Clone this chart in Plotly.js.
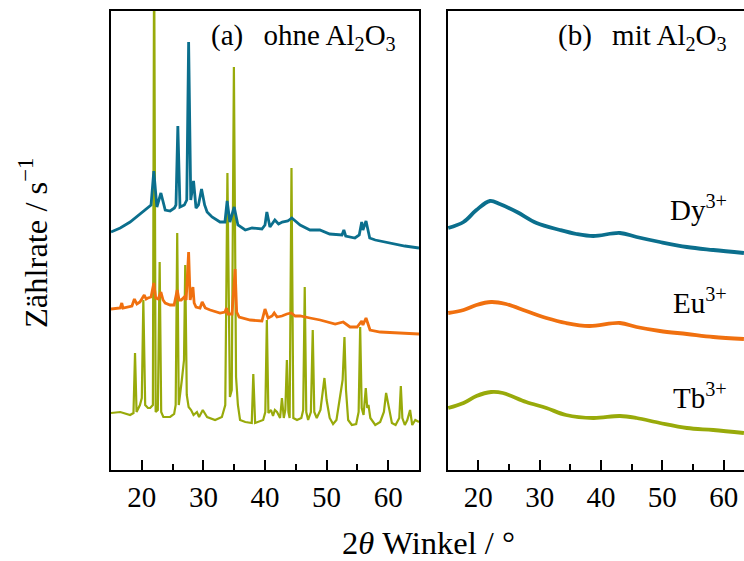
<!DOCTYPE html>
<html>
<head>
<meta charset="utf-8">
<script src="https://cdn.plot.ly/plotly-3.0.1.min.js"></script>
<style>html,body{margin:0;padding:0;background:#fff;}#chart{width:744px;height:561px;}</style>
</head>
<body>
<div id="chart"></div>
<script>
// ---- (a) ohne Al2O3 : 2theta (deg) and counts (arbitrary, offset-stacked) ----
const dyA_x = [15.0,16.5,18.1,19.9,21.0,21.5,21.95,22.45,23.1,23.8,24.6,25.3,25.55,25.85,26.2,26.9,27.3,27.6,27.95,28.4,28.8,29.2,29.7,30.2,30.6,31.4,32.7,33.5,33.85,34.3,35.0,35.6,36.8,37.9,39.5,40.0,40.3,40.8,41.6,42.2,42.8,43.7,44.35,45.7,47.3,48.9,50.5,52.5,52.8,53.1,54.6,55.3,55.7,55.9,56.4,57.0,57.9,60.3,62.7,65.0];
const dyA_y = [238,242,248,257,263,265,299,263,277,260,259,262,265,344,263,265,270,428,270,289,262,265,281,265,258,253,248,248,269,248,263,245,240,242,241,245,258,243,250,246,248,249,252,245,240,240,236,235,240,234,232,235,248,240,249,232,230,227,224,222];

const euA_x = [15.0,16.5,16.75,16.95,18.4,18.8,19.2,19.7,20.4,20.7,21.0,21.5,21.95,22.25,22.65,23.1,23.45,23.8,24.6,25.25,25.75,26.05,26.4,26.9,27.2,27.6,27.85,28.3,28.5,28.8,29.45,29.8,30.3,31.1,32.7,33.5,33.75,34.0,34.65,35.15,35.4,35.8,37.6,39.5,40.0,40.5,41.15,41.5,41.95,42.75,43.55,44.25,44.9,45.7,47.3,48.95,51.4,52.7,53.8,54.95,55.7,55.9,56.4,57.05,58.7,61.1,65.0];
const euA_y = [161,162,167,162,164,171,166,168,175,171,172,173,187,172,171,178,170,167,165,165,180,170,170,173,170,218,170,183,167,163,162,168,162,160,157,158,162,156,156,201,158,153,150,149,161,152,154,157,153,154,156,157,154,154,152,150,146,148,143,143,149,145,152,140,138,137,136];

const tbA_x = [15.0,16.5,18.1,18.65,18.9,19.15,19.7,20.0,20.25,20.55,21.0,21.35,21.8,22.0,22.25,22.6,22.9,23.15,23.5,24.6,25.25,25.5,25.75,26.0,26.5,26.85,27.05,27.3,27.6,28.0,28.4,28.95,29.3,29.9,30.6,31.9,33.0,33.55,33.9,34.3,34.6,34.95,35.3,35.6,35.95,36.8,37.85,38.1,38.4,39.7,40.05,40.3,40.55,40.98,41.3,41.6,41.95,42.45,42.75,43.05,43.3,43.55,43.8,44.0,44.3,44.6,45.2,45.9,46.2,46.45,46.7,47.0,47.45,47.75,48.0,48.4,49.0,49.35,49.65,50.0,50.5,51.05,51.6,52.1,52.45,52.6,52.9,53.15,53.5,54.1,54.8,55.2,55.45,55.7,56.0,56.36,56.6,56.8,57.1,57.9,58.7,59.3,59.66,60.0,60.6,61.2,61.8,62.05,62.3,62.7,63.1,63.55,63.9,64.4,65.0];
const tbA_y = [57,58,55,57,117,58,65,72,170,65,62,62,65,530,58,60,208,58,53,53,56,65,237,65,90,110,205,75,63,60,55,58,53,60,53,50,53,65,297,73,80,403,93,65,50,48,47,96,47,50,58,150,57,60,54,60,58,52,72,52,60,110,58,52,302,52,50,52,60,183,58,50,58,140,58,52,60,75,92,70,52,46,50,70,87,90,133,80,50,45,46,58,143,62,55,82,62,65,52,45,48,58,77,65,47,45,52,84,52,45,50,60,45,50,48];

// ---- (b) mit Al2O3 ----
const dyB_x = [15.1,17.6,19.7,21.9,23.5,26.3,29.5,33.3,36.0,38.75,43.1,45.8,49.6,54.0,58.3,63.3];
const dyB_y = [242,248,260,269,266,258,247,240,236,234,237,233,228,223,220,217];
const euB_x = [15.1,17.6,19.7,22.1,24.5,27.8,31.1,34.3,38.1,43.1,45.8,49.6,54.0,58.3,63.3];
const euB_y = [157,160,165,168,166,159,152,147,144,147,143,139,136,133,131];
const tbB_x = [15.1,17.6,19.7,22.1,24.0,27.8,31.1,34.3,38.75,43.1,45.8,49.6,54.0,58.3,63.3];
const tbB_y = [62,67,74,78,77,68,62,55,52,54,52,47,42,40,37];

const tickVals = [20,30,40,50,60];
const tickText = ['20','30','40','50','60'];
const ionLabels = ['Dy<sup>3+</sup>','Eu<sup>3+</sup>','Tb<sup>3+</sup>'];

const C_DY = '#0b6f8d', C_EU = '#f0700f', C_TB = '#98aa0a';
const FONT = 'Liberation Serif, Times New Roman, serif';
const W = 744, H = 561;

function tr(x, y, color, xa, ya, w, shape) {
  return {x: x, y: y, xaxis: xa, yaxis: ya, type: 'scatter', mode: 'lines',
          line: {color: color, width: w, shape: shape || 'linear'}, hoverinfo: 'skip', showlegend: false};
}
const data = [
  tr(tbA_x, tbA_y, C_TB, 'x', 'y', 2.2),
  tr(euA_x, euA_y, C_EU, 'x', 'y', 2.8),
  tr(dyA_x, dyA_y, C_DY, 'x', 'y', 2.8),
  tr(dyB_x, dyB_y, C_DY, 'x2', 'y2', 3.8, 'spline'),
  tr(euB_x, euB_y, C_EU, 'x2', 'y2', 3.8, 'spline'),
  tr(tbB_x, tbB_y, C_TB, 'x2', 'y2', 3.8, 'spline')
];

const yTop = 1 - 11/H, yBot = 1 - 470/H;
function xax(dom, rng) {
  return {domain: dom, range: rng, showline: true, mirror: true, linecolor: '#000', linewidth: 2,
          ticks: 'inside', ticklen: 10, tickwidth: 2, tickcolor: '#000',
          tickvals: tickVals, ticktext: tickText, showgrid: false, zeroline: false,
          tickfont: {family: FONT, size: 29, color: '#000'},
          minor: {ticks: 'inside', ticklen: 6, tickwidth: 2, tickcolor: '#000', tickvals: [15,25,35,45,55,65]}};
}
function yax(mirror) {
  return {domain: [yBot, yTop], range: [0, 459], showline: true, mirror: mirror, linecolor: '#000', linewidth: 2,
          showticklabels: false, ticks: '', showgrid: false, zeroline: false};
}
const rightEnd = 15 + (W - 447.6) / 6.135;
const AF = 29;
const GAP = '&nbsp;&nbsp;\u2009';
const layout = {
  width: W, height: H, margin: {l: 0, r: 0, t: 0, b: 0},
  paper_bgcolor: '#fff', plot_bgcolor: '#fff',
  font: {family: FONT, color: '#000'},
  xaxis: xax([111/W, 419/W], [15, 65]),
  yaxis: Object.assign(yax(true), {anchor: 'x'}),
  xaxis2: Object.assign(xax([447.6/W, 1], [15, rightEnd]), {anchor: 'y2'}),
  yaxis2: Object.assign(yax(false), {anchor: 'x2'}),
  annotations: [
    {text: '(a)' + GAP + 'ohne Al<sub>2</sub>O<sub>3</sub>', xref: 'paper', yref: 'paper', x: 398/W, y: 1 - 37/H, xanchor: 'right', yanchor: 'middle', showarrow: false, font: {size: AF}},
    {text: '(b)' + GAP + 'mit Al<sub>2</sub>O<sub>3</sub>', xref: 'paper', yref: 'paper', x: 729/W, y: 1 - 37/H, xanchor: 'right', yanchor: 'middle', showarrow: false, font: {size: AF}},
    {text: ionLabels[0], xref: 'paper', yref: 'paper', x: 729/W, y: 1 - 208/H, xanchor: 'right', yanchor: 'middle', showarrow: false, font: {size: AF}},
    {text: ionLabels[1], xref: 'paper', yref: 'paper', x: 729/W, y: 1 - 301/H, xanchor: 'right', yanchor: 'middle', showarrow: false, font: {size: AF}},
    {text: ionLabels[2], xref: 'paper', yref: 'paper', x: 729/W, y: 1 - 396/H, xanchor: 'right', yanchor: 'middle', showarrow: false, font: {size: AF}},
    {text: 'Zählrate / s<sup>−1</sup>', xref: 'paper', yref: 'paper', x: 34/W, y: 1 - 243/H, xanchor: 'center', yanchor: 'middle', textangle: -90, showarrow: false, font: {size: 32.5}},
    {text: '2<i>θ</i> Winkel / °', xref: 'paper', yref: 'paper', x: 428/W, y: 1 - 543/H, xanchor: 'center', yanchor: 'middle', showarrow: false, font: {size: 32.5}}
  ]
};
Plotly.newPlot('chart', data, layout, {staticPlot: true, displayModeBar: false});
</script>
</body>
</html>
